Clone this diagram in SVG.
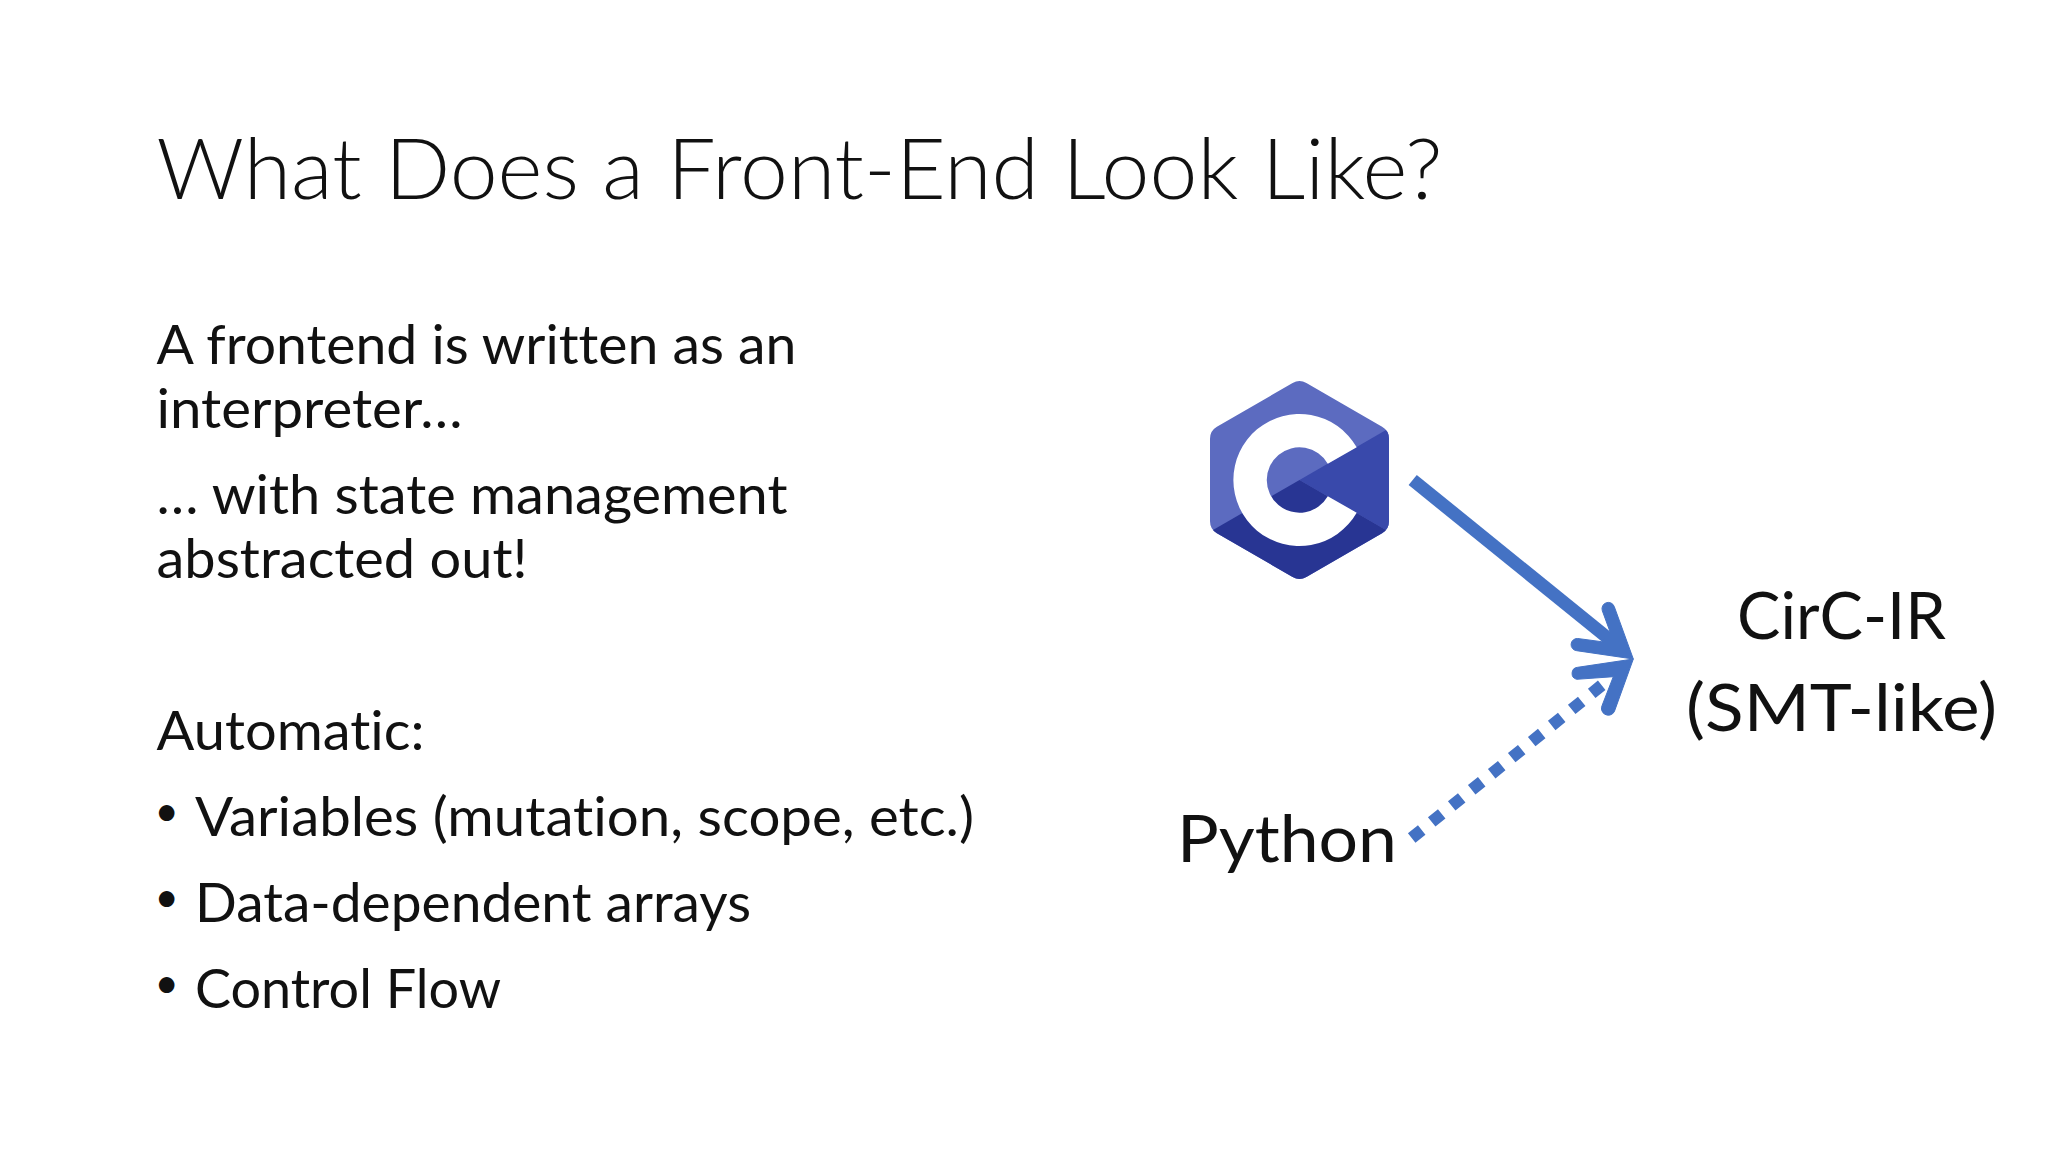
<svg xmlns="http://www.w3.org/2000/svg" width="2048" height="1152" viewBox="0 0 2048 1152">
<style>
text{font-family:"Lato","Carlito","Open Sans",sans-serif;fill:#111;font-variant-ligatures:none}
.t{font-size:84px;font-weight:300}
.b{font-size:54px}
.d{font-size:42px}
.r{font-size:65px}
.solid{fill:none;stroke:#4472c4;stroke-width:13}
.dot{fill:none;stroke:#4472c4;stroke-width:12;stroke-dasharray:12.83 12.83}
.head{fill:#4472c4;stroke:#4472c4;stroke-width:1}
</style>
<defs><clipPath id="hex"><path d="M1292.6 383Q1299.5 379 1306.4 383L1382.1 426.7Q1389 430.7 1389 438.7L1389 521.3Q1389 529.3 1382.1 533.3L1306.4 577Q1299.5 581 1292.6 577L1216.9 533.3Q1210 529.3 1210 521.3L1210 438.7Q1210 430.7 1216.9 426.7Z"/></clipPath></defs>
<rect width="2048" height="1152" fill="#fff"/>
<g id="title"><text class="t" x="156.5" y="199" textLength="1286" lengthAdjust="spacingAndGlyphs">What Does a Front-End Look Like?</text></g>
<g id="body">
<text class="b" x="156.5" y="363.5" textLength="640" lengthAdjust="spacingAndGlyphs">A frontend is written as an</text>
<text class="b" x="156.5" y="427.5" textLength="306" lengthAdjust="spacingAndGlyphs">interpreter…</text>
<text class="b" x="156.5" y="513.5" textLength="631" lengthAdjust="spacingAndGlyphs">… with state management</text>
<text class="b" x="156.5" y="577.5" textLength="371" lengthAdjust="spacingAndGlyphs">abstracted out!</text>
<text class="b" x="156.5" y="749.5" textLength="268" lengthAdjust="spacingAndGlyphs">Automatic:</text>
<text class="d" x="154.4" y="826">•</text>
<text class="b" x="195" y="835.5" textLength="779" lengthAdjust="spacingAndGlyphs">Variables (mutation, scope, etc.)</text>
<text class="d" x="154.4" y="912">•</text>
<text class="b" x="195" y="921.5" textLength="556" lengthAdjust="spacingAndGlyphs">Data-dependent arrays</text>
<text class="d" x="154.4" y="998">•</text>
<text class="b" x="195" y="1007.5" textLength="306" lengthAdjust="spacingAndGlyphs">Control Flow</text>
</g>
<g id="c-logo">
<g clip-path="url(#hex)">
<rect x="1200" y="370" width="200" height="220" fill="#5c6bc0"/>
<path d="M1299.5 480L1395 424.8V535.2Z" fill="#3949ab"/>
<path d="M1299.5 480L1395 535.2V590H1204V535.2Z" fill="#283593"/>
</g>
<path d="M1356.7 447.3A66 66 0 1 0 1356.7 512.7L1327.8 496.3A32.7 32.7 0 1 1 1327.8 463.7Z" fill="#fff"/>
</g>
<g id="python"><text class="r" x="1177" y="862" textLength="220" lengthAdjust="spacingAndGlyphs">Python</text></g>
<g id="circ-ir">
<text class="r" x="1737" y="639" textLength="209" lengthAdjust="spacingAndGlyphs">CirC-IR</text>
<text class="r" x="1686" y="731" textLength="311" lengthAdjust="spacingAndGlyphs">(SMT-like)</text>
</g>
<g id="connectors">
<path class="solid" d="M1412.7 480L1622 649.5"/>
<path class="head" d="M1633.3 659L1614.3 606.7A6.3 6.3 0 0 0 1602.3 610.7L1610 631.7L1601.7 641.7L1577.7 638.5A6.1 6.1 0 0 0 1576.7 650.7Z"/>
<path class="dot" d="M1411.7 838L1601.7 685.3"/>
<path class="head" d="M1633.3 659L1577.7 667.3A6.1 6.1 0 0 0 1576.7 679.3L1613.3 676.7L1602.3 705A6.3 6.3 0 0 0 1614.3 711.7Z"/>
</g>
</svg>
